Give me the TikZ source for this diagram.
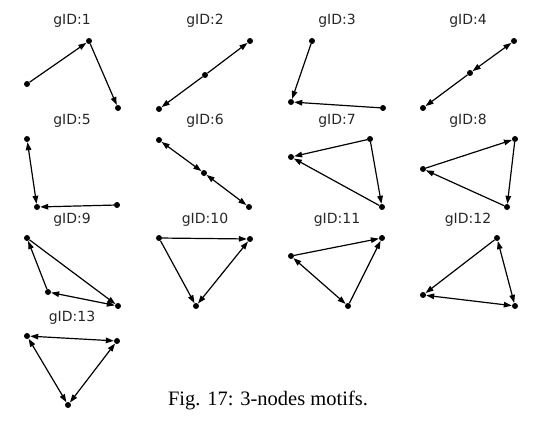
\documentclass[tikz,border=0pt]{standalone}
\usepackage{fontspec}
\setmainfont{Liberation Serif}
\newfontfamily\titlefont{DejaVu Sans}
\usetikzlibrary{arrows.meta}
\begin{document}
\begin{tikzpicture}[x=1pt,y=-1pt,
  vtx/.style={circle,fill=black,inner sep=0pt,minimum size=6pt},
  edg/.style={draw=black,line width=1.2pt,-{Triangle[length=8pt,width=5.5pt]}},
  bedg/.style={draw=black,line width=1.2pt,{Triangle[length=8pt,width=5.5pt]}-{Triangle[length=8pt,width=5.5pt]}},
  ttl/.style={font=\titlefont\fontsize{14}{16}\selectfont,text=black!85,inner sep=0pt}]
\useasboundingbox (0,0) rectangle (556,420);
% titles
\node[ttl] (t1) at (72,21) {gID:1};
\node[ttl] (t2) at (205,21) {gID:2};
\node[ttl] (t3) at (337,21) {gID:3};
\node[ttl] (t4) at (468,21) {gID:4};
\node[ttl] (t5) at (72,121) {gID:5};
\node[ttl] (t6) at (205,121) {gID:6};
\node[ttl] (t7) at (337,121) {gID:7};
\node[ttl] (t8) at (468,121) {gID:8};
\node[ttl] (t9) at (72,220) {gID:9};
\node[ttl] (t10) at (205,220) {gID:10};
\node[ttl] (t11) at (337,220) {gID:11};
\node[ttl] (t12) at (468,220) {gID:12};
\node[ttl] (t13) at (72,318) {gID:13};
% g1
\node[vtx] (g1a) at (27,84) {};
\node[vtx] (g1b) at (89,41) {};
\node[vtx] (g1c) at (118,108) {};
\draw[edg] (g1a) -- (g1b);
\draw[edg] (g1b) -- (g1c);
% g2
\node[vtx] (g2a) at (159,109) {};
\node[vtx] (g2b) at (205,75) {};
\node[vtx] (g2c) at (250,41) {};
\draw[edg] (g2b) -- (g2c);
\draw[edg] (g2b) -- (g2a);
% g3
\node[vtx] (g3a) at (312,41) {};
\node[vtx] (g3b) at (291,102) {};
\node[vtx] (g3c) at (383,108) {};
\draw[edg] (g3a) -- (g3b);
\draw[edg] (g3c) -- (g3b);
% g4
\node[vtx] (g4a) at (423,108) {};
\node[vtx] (g4b) at (470,73) {};
\node[vtx] (g4c) at (514,41) {};
\draw[bedg] (g4b) -- (g4c);
\draw[edg] (g4b) -- (g4a);
% g5
\node[vtx] (g5a) at (27,139) {};
\node[vtx] (g5b) at (37,207) {};
\node[vtx] (g5c) at (117,205) {};
\draw[bedg] (g5a) -- (g5b);
\draw[edg] (g5c) -- (g5b);
% g6
\node[vtx] (g6a) at (159,140) {};
\node[vtx] (g6b) at (204,173) {};
\node[vtx] (g6c) at (249,207) {};
\draw[bedg] (g6a) -- (g6b);
\draw[bedg] (g6b) -- (g6c);
% g7
\node[vtx] (g7a) at (291,157) {};
\node[vtx] (g7b) at (370,139) {};
\node[vtx] (g7c) at (382,207) {};
\draw[edg] (g7b) -- (g7a);
\draw[edg] (g7c) -- (g7a);
\draw[edg] (g7b) -- (g7c);
% g8
\node[vtx] (g8a) at (423,169) {};
\node[vtx] (g8b) at (515,139) {};
\node[vtx] (g8c) at (507,207) {};
\draw[edg] (g8a) -- (g8b);
\draw[edg] (g8b) -- (g8c);
\draw[edg] (g8c) -- (g8a);
% g9
\node[vtx] (g9a) at (27,238) {};
\node[vtx] (g9b) at (48,292) {};
\node[vtx] (g9c) at (118,306) {};
\draw[edg] (g9b) -- (g9a);
\draw[edg] (g9a) -- (g9c);
\draw[bedg] (g9b) -- (g9c);
% g10
\node[vtx] (g10a) at (159,238) {};
\node[vtx] (g10b) at (250,239) {};
\node[vtx] (g10c) at (196,306) {};
\draw[edg] (g10a) -- (g10b);
\draw[edg] (g10a) -- (g10c);
\draw[bedg] (g10b) -- (g10c);
% g11
\node[vtx] (g11a) at (291,256) {};
\node[vtx] (g11b) at (382,238) {};
\node[vtx] (g11c) at (348,306) {};
\draw[edg] (g11a) -- (g11b);
\draw[bedg] (g11a) -- (g11c);
\draw[edg] (g11c) -- (g11b);
% g12
\node[vtx] (g12a) at (497,238) {};
\node[vtx] (g12b) at (423,295) {};
\node[vtx] (g12c) at (515,306) {};
\draw[edg] (g12a) -- (g12b);
\draw[bedg] (g12a) -- (g12c);
\draw[bedg] (g12b) -- (g12c);
% g13
\node[vtx] (g13a) at (27,336) {};
\node[vtx] (g13b) at (117,341) {};
\node[vtx] (g13c) at (68,405) {};
\draw[bedg] (g13a) -- (g13b);
\draw[bedg] (g13a) -- (g13c);
\draw[bedg] (g13b) -- (g13c);
% caption
\node[font=\fontsize{20.5}{24}\selectfont,inner sep=0pt,anchor=base] (cap) at (268,405) {Fig. 17: 3-nodes motifs.};
\end{tikzpicture}
\end{document}
